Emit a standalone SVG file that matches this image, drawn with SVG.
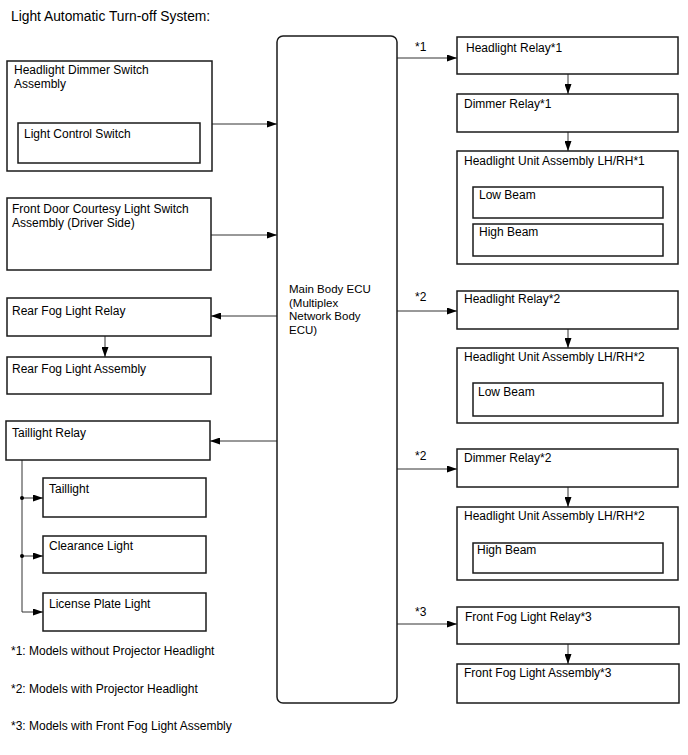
<svg xmlns="http://www.w3.org/2000/svg" width="688" height="755" viewBox="0 0 688 755">
<style>
text{font-family:"Liberation Sans",Arial,sans-serif;font-size:12px;fill:#000}
.title{font-size:13.8px}
.ecu{font-size:11.5px}
.box{fill:#fff;stroke:#1a1a1a;stroke-width:1.5}
.ln{fill:none;stroke:#333;stroke-width:1}
</style>
<defs>
<marker id="ah" viewBox="0 0 10 7" refX="10" refY="3.5" markerWidth="10" markerHeight="7" markerUnits="userSpaceOnUse" orient="auto">
<path d="M0,0 L10,3.5 L0,7 Z" fill="#000"/>
</marker>
</defs>
<rect width="688" height="755" fill="#fff"/>
<text class="title" x="11" y="21">Light Automatic Turn-off System:</text>

<g id="connectors">
<line class="ln" x1="212" y1="124" x2="277" y2="124" marker-end="url(#ah)"/>
<line class="ln" x1="211" y1="235" x2="277" y2="235" marker-end="url(#ah)"/>
<line class="ln" x1="277" y1="316" x2="211" y2="316" marker-end="url(#ah)"/>
<line class="ln" x1="105" y1="336" x2="105" y2="357" marker-end="url(#ah)"/>
<line class="ln" x1="277" y1="441" x2="210" y2="441" marker-end="url(#ah)"/>
<polyline class="ln" points="22,460 22,612 43,612" marker-end="url(#ah)"/>
<line class="ln" x1="22" y1="498" x2="43" y2="498" marker-end="url(#ah)"/>
<line class="ln" x1="22" y1="556" x2="43" y2="556" marker-end="url(#ah)"/>
<circle cx="22" cy="498" r="2" fill="#000"/>
<circle cx="22" cy="556" r="2" fill="#000"/>
<line class="ln" x1="397" y1="58" x2="457" y2="58" marker-end="url(#ah)"/>
<text x="415" y="51">*1</text>
<line class="ln" x1="568" y1="74" x2="568" y2="94" marker-end="url(#ah)"/>
<line class="ln" x1="568" y1="132" x2="568" y2="151" marker-end="url(#ah)"/>
<line class="ln" x1="397" y1="311" x2="457" y2="311" marker-end="url(#ah)"/>
<text x="415" y="301">*2</text>
<line class="ln" x1="568" y1="329" x2="568" y2="348" marker-end="url(#ah)"/>
<line class="ln" x1="397" y1="469" x2="457" y2="469" marker-end="url(#ah)"/>
<text x="415" y="460">*2</text>
<line class="ln" x1="568" y1="487" x2="568" y2="507" marker-end="url(#ah)"/>
<line class="ln" x1="397" y1="624" x2="457" y2="624" marker-end="url(#ah)"/>
<text x="415" y="616">*3</text>
<line class="ln" x1="568" y1="644" x2="568" y2="664" marker-end="url(#ah)"/>
</g>

<g id="dimmer-switch">
<rect class="box" x="7" y="61" width="205" height="110"/>
<text x="14" y="74">Headlight Dimmer Switch</text>
<text x="14" y="88">Assembly</text>
</g>
<g id="light-control-switch">
<rect class="box" x="18" y="123" width="182" height="40"/>
<text x="24" y="138">Light Control Switch</text>
</g>
<g id="door-switch">
<rect class="box" x="7" y="198" width="204" height="72"/>
<text x="12" y="213">Front Door Courtesy Light Switch</text>
<text x="12" y="227">Assembly (Driver Side)</text>
</g>
<g id="rear-fog-relay">
<rect class="box" x="7" y="298" width="204" height="38"/>
<text x="12" y="315">Rear Fog Light Relay</text>
</g>
<g id="rear-fog-assembly">
<rect class="box" x="7" y="357" width="204" height="37"/>
<text x="12" y="373">Rear Fog Light Assembly</text>
</g>
<g id="taillight-relay">
<rect class="box" x="6" y="421" width="204" height="39"/>
<text x="12" y="437">Taillight Relay</text>
</g>
<g id="taillight">
<rect class="box" x="43" y="478" width="163" height="39"/>
<text x="49" y="493">Taillight</text>
</g>
<g id="clearance-light">
<rect class="box" x="43" y="536" width="163" height="37"/>
<text x="49" y="550">Clearance Light</text>
</g>
<g id="license-plate-light">
<rect class="box" x="43" y="593" width="163" height="38"/>
<text x="49" y="608">License Plate Light</text>
</g>

<g id="ecu">
<rect class="box" x="277" y="36" width="120" height="667" rx="6"/>
<text class="ecu" x="289" y="293">Main Body ECU</text>
<text class="ecu" x="289" y="306.5">(Multiplex</text>
<text class="ecu" x="289" y="320">Network Body</text>
<text class="ecu" x="289" y="333.5">ECU)</text>
</g>

<g id="headlight-relay-1">
<rect class="box" x="457" y="37" width="221" height="37"/>
<text x="466" y="52">Headlight Relay*1</text>
</g>
<g id="dimmer-relay-1">
<rect class="box" x="457" y="94" width="221" height="38"/>
<text x="464" y="108">Dimmer Relay*1</text>
</g>
<g id="headlight-unit-1">
<rect class="box" x="457" y="151" width="221" height="113"/>
<text x="464" y="165">Headlight Unit Assembly LH/RH*1</text>
<rect class="box" x="473" y="187" width="190" height="31"/>
<text x="479" y="199">Low Beam</text>
<rect class="box" x="473" y="224" width="190" height="32"/>
<text x="479" y="236">High Beam</text>
</g>
<g id="headlight-relay-2">
<rect class="box" x="457" y="291" width="221" height="38"/>
<text x="464" y="303">Headlight Relay*2</text>
</g>
<g id="headlight-unit-2-low">
<rect class="box" x="457" y="348" width="221" height="75"/>
<text x="464" y="361">Headlight Unit Assembly LH/RH*2</text>
<rect class="box" x="473" y="383" width="190" height="33"/>
<text x="478" y="396">Low Beam</text>
</g>
<g id="dimmer-relay-2">
<rect class="box" x="457" y="449" width="221" height="38"/>
<text x="464" y="462">Dimmer Relay*2</text>
</g>
<g id="headlight-unit-2-high">
<rect class="box" x="457" y="507" width="221" height="73"/>
<text x="464" y="520">Headlight Unit Assembly LH/RH*2</text>
<rect class="box" x="473" y="543" width="190" height="30"/>
<text x="477" y="554">High Beam</text>
</g>
<g id="front-fog-relay">
<rect class="box" x="457" y="607" width="222" height="37"/>
<text x="465" y="621">Front Fog Light Relay*3</text>
</g>
<g id="front-fog-assembly">
<rect class="box" x="457" y="664" width="222" height="39"/>
<text x="464" y="677">Front Fog Light Assembly*3</text>
</g>

<g id="notes">
<text x="11" y="655">*1: Models without Projector Headlight</text>
<text x="11" y="693">*2: Models with Projector Headlight</text>
<text x="11" y="730">*3: Models with Front Fog Light Assembly</text>
</g>
</svg>
